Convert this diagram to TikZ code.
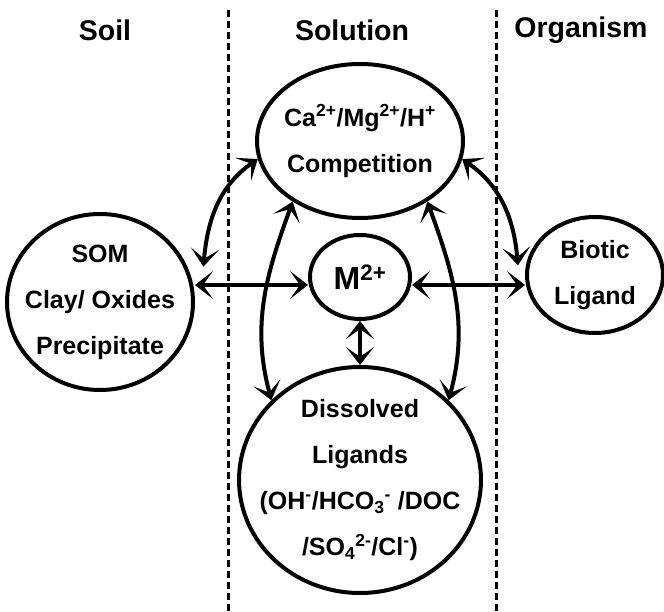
\documentclass[tikz,border=0pt]{standalone}
\usepackage{fontspec}
\setmainfont{Liberation Sans}
\usepackage{tikz}
\usetikzlibrary{positioning,arrows.meta,shapes.geometric}

\begin{document}
\begin{tikzpicture}[x=1pt,y=1pt,node distance=136pt]
  \tikzstyle{blob} = [ellipse, draw, line width=4pt, inner sep=-20pt, align=center, font=\fontsize{25}{46}\selectfont\bfseries]
  \tikzstyle{head} = [font=\fontsize{28.5}{30}\selectfont\bfseries]
  \tikzstyle{dbl} = [{Stealth[length=18pt,width=28pt,inset=10pt]}-{Stealth[length=18pt,width=28pt,inset=10pt]}, line width=4pt]
  \tikzstyle{divider} = [dash pattern=on 7pt off 4pt, line width=3pt]
  \useasboundingbox (0,0) rectangle (664,611);
  % zones
  \draw[divider] (228,601) -- (228,0);
  \draw[divider] (496,601) -- (496,0);
  \node[head] (soil) at (105,581) {Soil};
  \node[head] (sol) at (352,581) {Solution};
  \node[head] (org) at (581,581) {Organism};
  % species
  \node[blob, minimum width=100pt, minimum height=84pt, font=\fontsize{32}{36}\selectfont\bfseries] (m) at (360,334) {M\textsuperscript{2+}};
  \node[blob, minimum width=206pt, minimum height=154pt] (comp) [above of=m] {Ca\textsuperscript{2+}/Mg\textsuperscript{2+}/H\textsuperscript{+}\\Competition};
  \node[blob, minimum width=242pt, minimum height=226pt] (dis) [below of=m, node distance=203pt] {Dissolved\\Ligands\\(OH\textsuperscript{-}/HCO\textsubscript{3}\textsuperscript{-} /DOC\\/SO\textsubscript{4}\textsuperscript{2-}/Cl\textsuperscript{-})};
  \node[blob, minimum width=186pt, minimum height=176pt] (som) at (100,309) {SOM\\Clay/ Oxides\\Precipitate};
  \node[blob, minimum width=136pt, minimum height=116pt] (bio) at (595,336) {Biotic\\Ligand};
  \coordinate (mid) at ([yshift=-8pt]m.center);
  % exchanges
  \draw[dbl] (som.east |- mid) -- (m.west |- mid);
  \draw[dbl] (m.east |- mid) -- (bio.west |- mid);
  \draw[dbl] (m.south) -- (dis.north);
  \draw[dbl] ([xshift=16pt]som.22) to[out=85,in=215] (comp.190);
  \draw[dbl] ([xshift=-8pt]bio.172) to[out=95,in=-35] (comp.-10);
  \draw[dbl] (dis.138) to[out=105,in=250] (comp.222);
  \draw[dbl] (dis.42) to[out=75,in=-70] (comp.-42);
\end{tikzpicture}
\end{document}
